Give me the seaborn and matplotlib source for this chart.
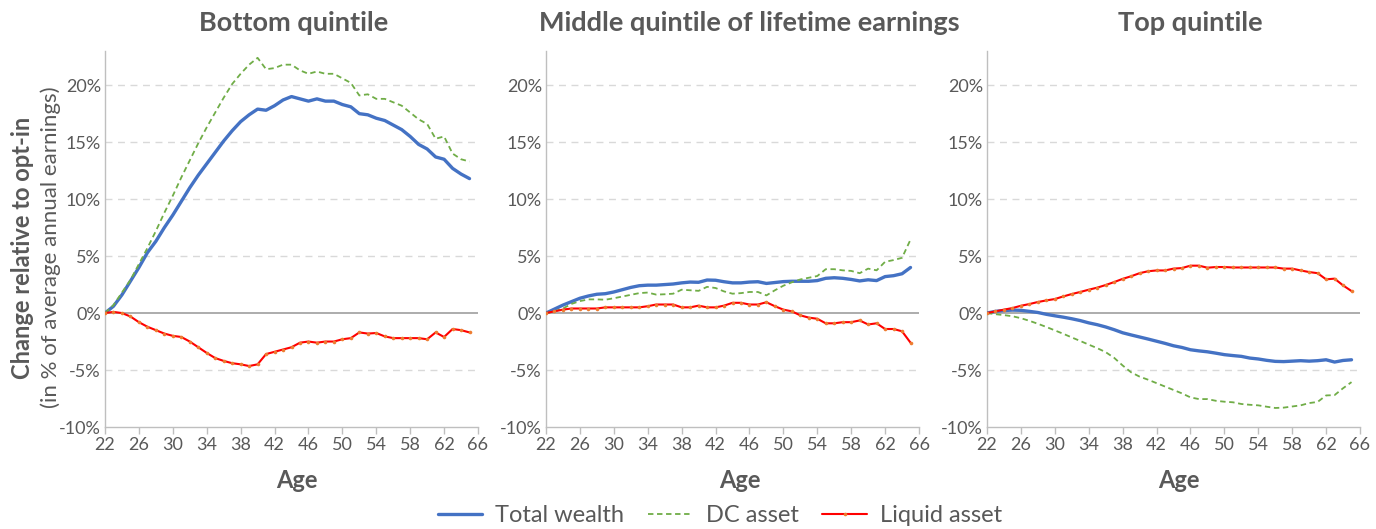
import pandas as pd
import matplotlib.pyplot as plt
import seaborn as sns
from matplotlib.ticker import PercentFormatter

# ages 22..65
ages = list(range(22, 66))

panel_titles = ["Bottom quintile", "Middle quintile of lifetime earnings", "Top quintile"]
series_names = ["Total wealth", "DC asset", "Liquid asset"]

# values in % of average annual earnings
bottom_total = [0, 0.6, 1.6, 2.8, 4.0, 5.3, 6.3, 7.5, 8.6, 9.8, 11.0, 12.1, 13.1, 14.1, 15.1, 16.0,
                16.8, 17.4, 17.9, 17.8, 18.2, 18.7, 19.0, 18.8, 18.6, 18.8, 18.6, 18.6, 18.3, 18.1,
                17.5, 17.4, 17.1, 16.9, 16.5, 16.1, 15.5, 14.8, 14.4, 13.7, 13.5, 12.7, 12.2, 11.8]
bottom_dc = [0, 0.7, 1.8, 2.9, 4.3, 5.7, 7.2, 8.8, 10.3, 11.9, 13.4, 14.9, 16.3, 17.6, 18.9, 20.1,
             21.0, 21.8, 22.4, 21.4, 21.5, 21.8, 21.8, 21.3, 21.0, 21.2, 21.0, 21.0, 20.6, 20.2,
             19.1, 19.2, 18.8, 18.8, 18.5, 18.2, 17.6, 17.0, 16.6, 15.3, 15.5, 14.0, 13.5, 13.3]
bottom_liquid = [0, 0.1, 0, -0.3, -0.8, -1.2, -1.5, -1.8, -2.0, -2.1, -2.5, -3.0, -3.5, -3.95, -4.2,
                 -4.4, -4.5, -4.65, -4.5, -3.6, -3.4, -3.2, -3.0, -2.6, -2.5, -2.6, -2.5, -2.5, -2.3,
                 -2.2, -1.7, -1.8, -1.75, -2.05, -2.2, -2.2, -2.2, -2.2, -2.3, -1.7, -2.1, -1.4, -1.5, -1.7]

middle_total = [0, 0.35, 0.7, 1.0, 1.3, 1.5, 1.65, 1.7, 1.85, 2.05, 2.25, 2.4, 2.45, 2.45, 2.5, 2.55,
                2.65, 2.72, 2.7, 2.9, 2.88, 2.75, 2.65, 2.65, 2.72, 2.75, 2.6, 2.68, 2.76, 2.79,
                2.79, 2.79, 2.85, 3.05, 3.1, 3.05, 2.95, 2.82, 2.92, 2.85, 3.2, 3.28, 3.45, 4.0]
middle_dc = [0, 0.15, 0.4, 0.8, 1.05, 1.2, 1.2, 1.17, 1.3, 1.45, 1.6, 1.75, 1.8, 1.62, 1.65, 1.7,
             2.05, 2.0, 1.95, 2.3, 2.2, 1.9, 1.7, 1.75, 1.85, 1.85, 1.55, 2.0, 2.4, 2.7,
             2.95, 3.1, 3.25, 3.85, 3.85, 3.75, 3.7, 3.5, 3.9, 3.75, 4.5, 4.65, 4.85, 6.45]
middle_liquid = [0, 0.15, 0.3, 0.4, 0.4, 0.4, 0.4, 0.5, 0.5, 0.5, 0.5, 0.5, 0.6, 0.75, 0.75, 0.75,
                 0.5, 0.5, 0.65, 0.5, 0.5, 0.65, 0.9, 0.9, 0.75, 0.75, 0.95, 0.6, 0.3, 0.15,
                 -0.2, -0.4, -0.5, -0.9, -0.9, -0.8, -0.8, -0.65, -1.0, -0.9, -1.4, -1.4, -1.6, -2.6]

top_total = [0, 0.15, 0.22, 0.26, 0.24, 0.15, 0.05, -0.11, -0.24, -0.36, -0.5, -0.66, -0.86, -1.02,
             -1.22, -1.46, -1.73, -1.92, -2.1, -2.28, -2.47, -2.66, -2.87, -3.02, -3.22, -3.32, -3.4,
             -3.52, -3.65, -3.73, -3.8, -3.95, -4.03, -4.15, -4.24, -4.26, -4.22, -4.18, -4.22,
             -4.18, -4.1, -4.3, -4.16, -4.1]
top_dc = [0, -0.1, -0.18, -0.28, -0.45, -0.68, -0.94, -1.22, -1.52, -1.82, -2.14, -2.45, -2.77,
          -3.08, -3.43, -3.93, -4.6, -5.2, -5.58, -5.85, -6.15, -6.45, -6.75, -7.05, -7.4, -7.55,
          -7.55, -7.7, -7.78, -7.83, -7.98, -8.05, -8.1, -8.22, -8.33, -8.3, -8.2, -8.1, -7.9,
          -7.8, -7.23, -7.2, -6.6, -6.06]
top_liquid = [0, 0.15, 0.3, 0.44, 0.64, 0.79, 0.97, 1.11, 1.23, 1.46, 1.67, 1.85, 2.05, 2.23, 2.46,
              2.72, 3.0, 3.23, 3.5, 3.67, 3.74, 3.74, 3.9, 3.95, 4.16, 4.16, 3.98, 4.04, 4.04, 4.0,
              4.0, 4.0, 4.0, 4.0, 4.0, 3.9, 3.9, 3.74, 3.6, 3.5, 2.96, 3.02, 2.43, 1.93]

x_ticks = list(range(22, 67, 4))
y_ticks = [-10, -5, 0, 5, 10, 15, 20]

panels = [
    [bottom_total, bottom_dc, bottom_liquid],
    [middle_total, middle_dc, middle_liquid],
    [top_total, top_dc, top_liquid],
]

rows = []
for p, title in enumerate(panel_titles):
    for s, name in enumerate(series_names):
        for a, v in zip(ages, panels[p][s]):
            rows.append({"panel": title, "series": name, "age": a, "value": v})
df = pd.DataFrame(rows)

sns.set_theme(style="white")
plt.rcParams.update({
    "font.family": ["Lato", "DejaVu Sans"],
    "axes.unicode_minus": False,
    "text.color": "#595959",
    "xtick.color": "#595959",
    "ytick.color": "#595959",
})

styles = {
    "Total wealth": dict(color="#4472C4", lw=2.4, ls="-", marker=None),
    "DC asset": dict(color="#70AD47", lw=1.3, ls=(0, (3, 2)), marker=None),
    "Liquid asset": dict(color="#FF0000", lw=1.5, ls="-", marker="o"),
}

fig = plt.figure(figsize=(13.76, 5.29), dpi=100)
lefts = [105, 546, 987]
title_cx = [294, 749, 1190]
age_cx = [297, 740, 1179]
W, H = 1376, 529

for i, title in enumerate(panel_titles):
    ax = fig.add_axes([lefts[i] / W, 1 - 427 / H, 373 / W, 376 / H])
    sub = df[df["panel"] == title]
    for name in series_names:
        st = styles[name]
        d = sub[sub["series"] == name]
        kw = {}
        if st["marker"]:
            kw = dict(marker="o", markersize=2.6, markerfacecolor="#ED7D31",
                      markeredgecolor="#ED7D31", markeredgewidth=0)
        sns.lineplot(data=d, x="age", y="value", ax=ax, color=st["color"], lw=st["lw"],
                     linestyle=st["ls"], label=name, legend=False, zorder=3, **kw)
    ax.set_xlim(22, 66)
    ax.set_ylim(-10, 23)
    ax.set_xticks(x_ticks)
    ax.set_yticks(y_ticks)
    ax.yaxis.set_major_formatter(PercentFormatter(decimals=0))
    ax.set_xlabel("")
    ax.set_ylabel("")
    for y in [-5, 5, 10, 15, 20]:
        ax.axhline(y, color="#D9D9D9", lw=1, ls=(0, (5, 4)), zorder=1)
    ax.axhline(0, color="#A6A6A6", lw=1.3, zorder=2)
    for side in ["top", "right"]:
        ax.spines[side].set_visible(False)
    for side in ["left", "bottom"]:
        ax.spines[side].set_color("#BFBFBF")
        ax.spines[side].set_linewidth(1)
    ax.tick_params(axis="x", length=5, width=1, color="#BFBFBF", labelsize=13, pad=2, direction="out",
                   bottom=True)
    ax.tick_params(axis="y", length=0, labelsize=13, pad=3)
    fig.text(title_cx[i] / W, 1 - 23 / H, title, ha="center", va="center",
             fontsize=19.5, fontweight="bold", color="#595959")
    fig.text(age_cx[i] / W, 1 - 481 / H, "Age", ha="center", va="center",
             fontsize=17, fontweight="bold", color="#595959")

fig.text(23 / W, 1 - 248 / H, "Change relative to opt-in", rotation=90, ha="center", va="center",
         fontsize=17, fontweight="bold", color="#595959")
fig.text(51 / W, 1 - 247 / H, "(in % of average annual earnings)", rotation=90, ha="center",
         va="center", fontsize=16, color="#595959")

handles, labels = fig.axes[0].get_legend_handles_labels()
fig.legend(handles, labels, loc="center", bbox_to_anchor=(720 / W, 1 - 516 / H), ncol=3,
           frameon=False, fontsize=17, handlelength=1.9, columnspacing=1.0, handletextpad=0.55,
           borderaxespad=0)

plt.savefig("out.png", dpi=100)
